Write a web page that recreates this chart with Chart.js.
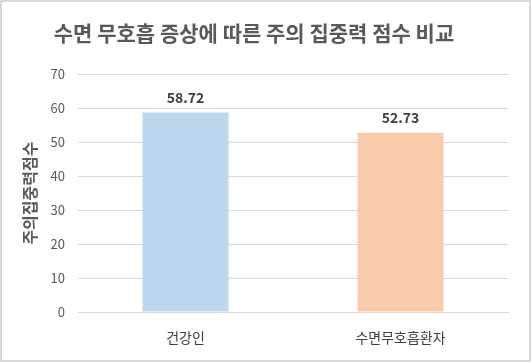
<!DOCTYPE html>
<html>
<head>
<meta charset="utf-8">
<script src="https://cdn.jsdelivr.net/npm/chart.js@4"></script>
<style>
  body { margin: 0; background: #fff; }
  #wrap { width: 531px; height: 362px; position: relative; }
</style>
</head>
<body>
<div id="wrap"><canvas id="ScoreChart" width="531" height="362"></canvas></div>
<script>
const labels = ["건강인", "수면무호흡환자"]
const scores = [58.72, 52.73]
const barColors = ["#BDD7EE", "#F8CBAD"]
const yTicks = [0, 10, 20, 30, 40, 50, 60, 70]

const FONT = "'Noto Sans CJK KR', 'Noto Sans', sans-serif"

// value labels above bars + grey frame round the whole picture
const barValues = {
  id: "barValues",
  afterDatasetsDraw(chart) {
    const ctx = chart.ctx
    const meta = chart.getDatasetMeta(0)
    ctx.save()
    ctx.font = "bold 14px " + FONT
    ctx.fillStyle = "#404040"
    ctx.textAlign = "center"
    ctx.textBaseline = "middle"
    meta.data.forEach((bar, i) => {
      ctx.fillText(scores[i].toFixed(2), bar.x, bar.y - 15)
    })
    ctx.restore()
  },
  afterDraw(chart) {
    const ctx = chart.ctx
    ctx.save()
    ctx.strokeStyle = "#d9d9d9"
    ctx.lineWidth = 2
    ctx.strokeRect(1, 1, chart.width - 2, chart.height - 2)
    ctx.restore()
  }
}

const ctx = document.getElementById("ScoreChart").getContext("2d")

const myChart = new Chart(ctx, {
  type: "bar",
  data: {
    labels,
    datasets: [{
      data: scores,
      backgroundColor: barColors,
      barPercentage: 0.4,
      categoryPercentage: 1
    }]
  },
  options: {
    responsive: false,
    animation: false,
    layout: { padding: { left: 0, right: 23, top: 0, bottom: 0 } },
    plugins: {
      legend: { display: false },
      tooltip: { enabled: false },
      title: {
        display: true,
        text: "수면 무호흡 증상에 따른 주의 집중력 점수 비교",
        color: "#595959",
        font: { family: FONT, size: 21, weight: "bold" },
        padding: { top: 20, bottom: 29 }
      }
    },
    scales: {
      x: {
        grid: { display: false, drawTicks: false },
        border: { color: "#d9d9d9" },
        ticks: { color: "#404040", font: { family: FONT, size: 14 }, padding: 17 },
        afterFit(scale) { scale.height = 50 }
      },
      y: {
        min: 0,
        max: 70,
        afterBuildTicks(scale) { scale.ticks = yTicks.map(v => ({ value: v })) },
        grid: { color: "#d9d9d9", drawTicks: false },
        border: { display: false },
        ticks: { color: "#595959", font: { family: FONT, size: 13 }, padding: 13 },
        title: {
          display: true,
          text: "주의집중력점수",
          color: "#595959",
          font: { family: FONT, size: 16, weight: "bold" },
          padding: { top: 20, bottom: 0 }
        },
        afterFit(scale) { scale.width = 78 }
      }
    }
  },
  plugins: [barValues]
})
</script>
</body>
</html>
